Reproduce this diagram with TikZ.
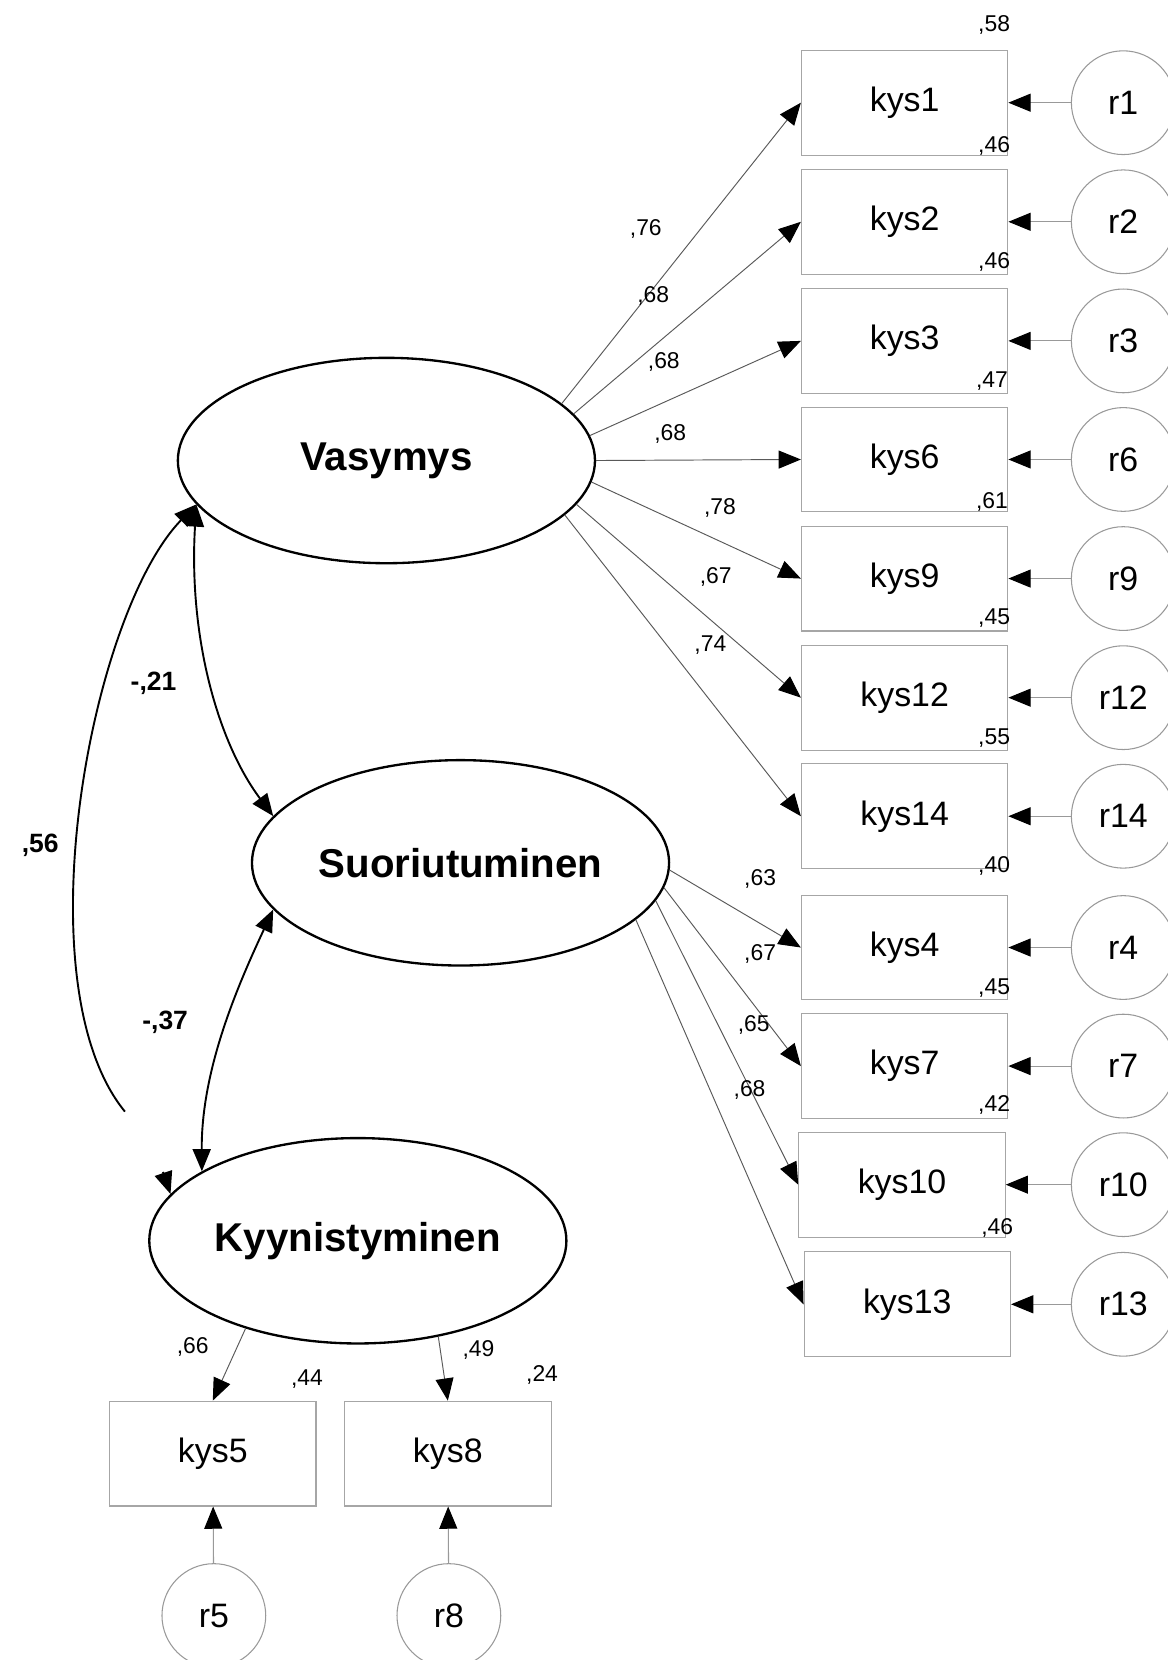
\documentclass[tikz,border=0pt]{standalone}
\usepackage{fontspec}
\setmainfont{Liberation Sans}
\usetikzlibrary{shapes.geometric,arrows.meta}

\begin{document}
\begin{tikzpicture}[x=0.5pt,y=-0.5pt,
  >={Triangle[length=10.5pt,width=8.5pt,color=black]},
  latent/.style={ellipse,draw=black,line width=1.1pt,minimum width=197pt,
    minimum height=97pt,inner sep=0pt,font=\fontsize{19}{22}\selectfont\bfseries},
  obs/.style={rectangle,draw=black!35,line width=0.5pt,minimum width=97.5pt,
    minimum height=49.5pt,inner sep=0pt,font=\fontsize{16}{19}\selectfont},
  err/.style={circle,draw=black!40,line width=0.5pt,minimum size=49pt,
    inner sep=0pt,font=\fontsize{16}{19}\selectfont},
  load/.style={draw=black!65,line width=0.45pt,->},
  resid/.style={draw=black!40,line width=0.5pt,->},
  corr/.style={draw=black,line width=0.9pt},
  coef/.style={font=\fontsize{10.8}{12}\selectfont,inner sep=0pt},
  bcoef/.style={font=\fontsize{12.5}{15}\selectfont\bfseries,inner sep=0pt},
]
\useasboundingbox (0,0) rectangle (1103,1568);

% latent factors
\node[latent] (V) at (365,435) {Vasymys};
\node[latent] (S) at (435,815) {Suoriutuminen};
\node[latent] (K) at (338,1172) {Kyynistyminen};

% indicators of the first two factors, each with its residual
\foreach \n/\x/\y in {1/854.5/97, 2/854.5/209.5, 3/854.5/322, 6/854.5/434,
    9/854.5/546.5, 12/854.5/659, 14/854.5/771, 4/854.5/895, 7/854.5/1007,
    10/852/1119, 13/857/1232}{
  \node[obs] (k\n) at (\x,\y) {kys\n};
  \node[err] (r\n) at (1061,\y) {r\n};
  \draw[resid] (r\n) -- (k\n);
}

% indicators of the third factor
\node[obs] (k5) at (201,1373) {kys5};
\node[obs] (k8) at (423,1373) {kys8};
\node[err] (r5) at (202,1526) {r5};
\node[err] (r8) at (424,1526) {r8};
\draw[resid] (r5) -- (k5);
\draw[resid] (r8) -- (k8);

% factor loadings
\foreach \n/\a in {1/18, 2/14, 3/7, 6/0, 9/354, 12/347, 14/343}
  \draw[load] (V.\a) -- (k\n.west);
\foreach \n/\a in {4/358, 7/353, 10/349, 13/342}
  \draw[load] (S.\a) -- (k\n.west);
\draw[load] (K.218) -- (k5.north);
\draw[load] (K.310) -- (k8.north);

% factor correlations
\coordinate (c56) at (118,1050);
\coordinate (c56b) at (154,1107);
\draw[corr,<->] (V.193) .. controls (178,600) and (205,700) .. (S.166);
\draw[corr,<->] (S.194) .. controls (225,930) and (190,1010) .. (K.156);
\draw[corr,->] (c56) .. controls (20,930) and (85,580) .. (V.193);
\draw[corr,->] (c56b) -- (K.166);

\node[bcoef] (c1) at (145,645) {-,21};
\node[bcoef] (c2) at (156,966) {-,37};
\node[bcoef] (c3) at (38,798) {,56};

% standardized loadings
\node[coef] (l1) at (610,216) {,76};
\node[coef] (l2) at (617,280) {,68};
\node[coef] (l3) at (627,342) {,68};
\node[coef] (l6) at (633,410) {,68};
\node[coef] (l9) at (680,480) {,78};
\node[coef] (l12) at (676,545) {,67};
\node[coef] (l14) at (671,609) {,74};
\node[coef] (l4) at (718,830) {,63};
\node[coef] (l7) at (718,901) {,67};
\node[coef] (l10) at (712,968) {,65};
\node[coef] (l13) at (708,1030) {,68};
\node[coef] (l5) at (182,1272) {,66};
\node[coef] (l8) at (452,1275) {,49};

% squared multiple correlations
\node[coef] (q1) at (939,24) {,58};
\node[coef] (q2) at (939,138) {,46};
\node[coef] (q3) at (939,247) {,46};
\node[coef] (q6) at (937,360) {,47};
\node[coef] (q9) at (937,474) {,61};
\node[coef] (q12) at (939,584) {,45};
\node[coef] (q14) at (939,697) {,55};
\node[coef] (q4) at (939,818) {,40};
\node[coef] (q7) at (939,933) {,45};
\node[coef] (q10) at (939,1044) {,42};
\node[coef] (q13) at (942,1160) {,46};
\node[coef] (q5) at (290,1303) {,44};
\node[coef] (q8) at (512,1299) {,24};
\end{tikzpicture}
\end{document}
